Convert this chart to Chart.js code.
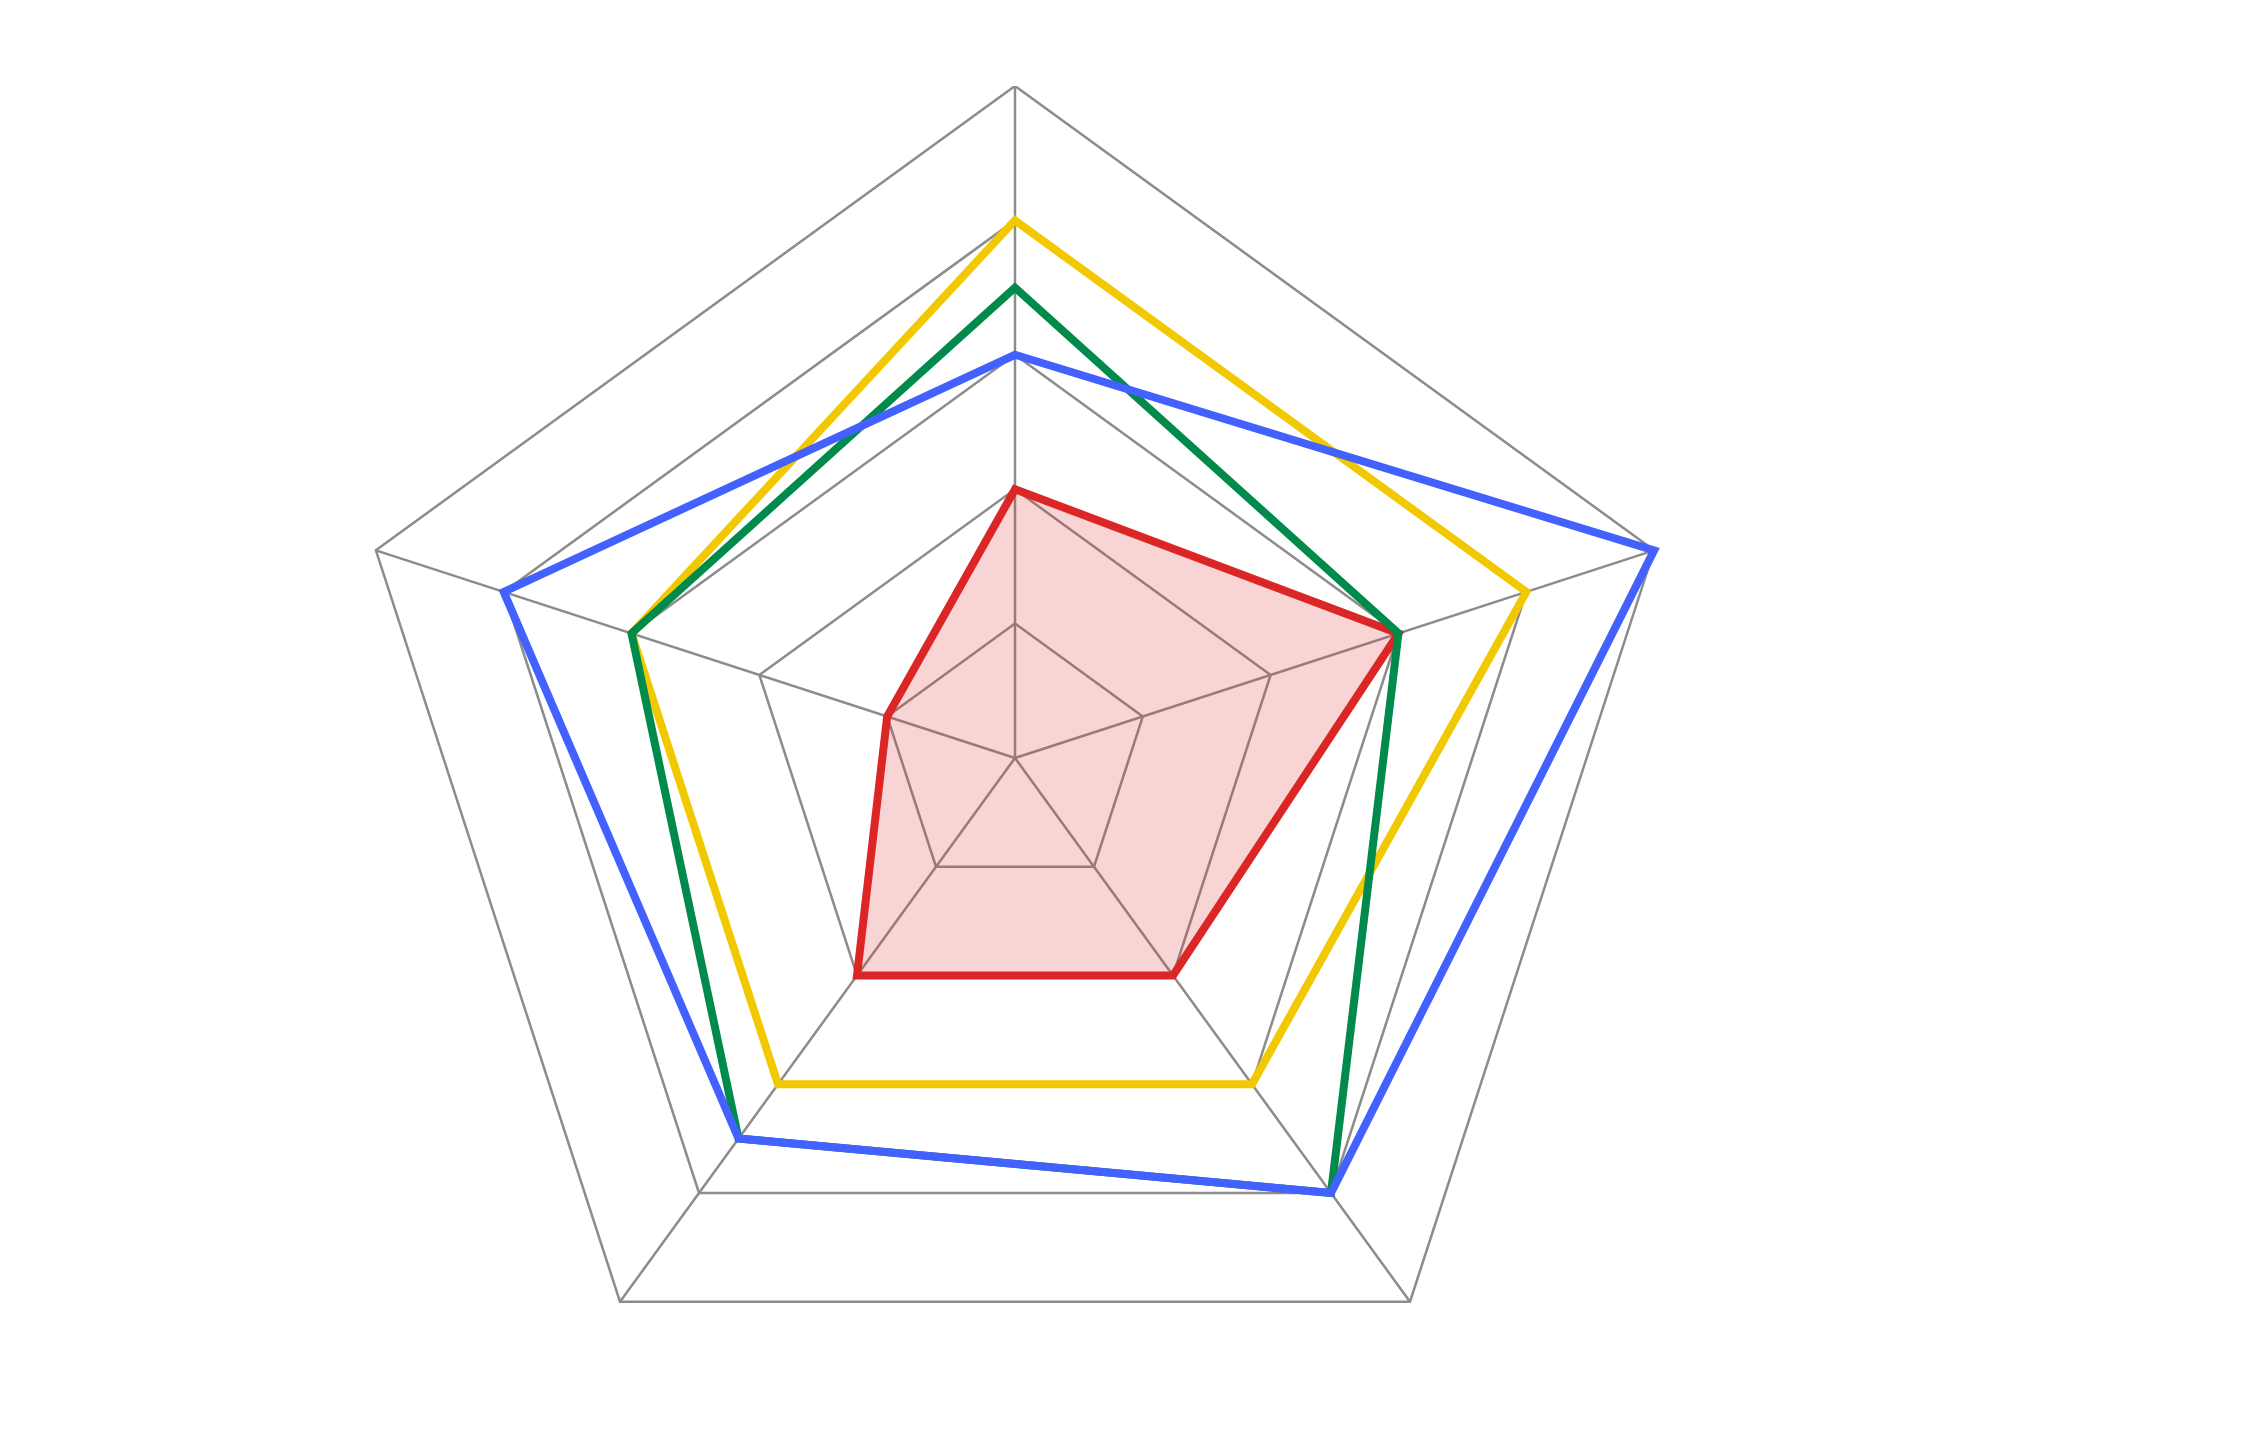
<!DOCTYPE html>
<html>
<head>
<meta charset="utf-8">
<style>
  html, body { margin: 0; padding: 0; background: #ffffff; width: 2247px; height: 1437px; overflow: hidden; }
  #wrap { position: absolute; left: 343px; top: 86px; width: 1344px; height: 1344px; }
</style>
<script src="https://cdn.jsdelivr.net/npm/chart.js@4/dist/chart.umd.min.js"></script>
</head>
<body>
<div id="wrap"><canvas id="c"></canvas></div>
<script>
// Axis categories (labels are not shown in the picture)
const categories = ['A', 'B', 'C', 'D', 'E'];
// Series values, clockwise from the top axis
const seriesBlue   = [3, 5, 4, 3.5, 4];
const seriesGreen  = [3.5, 3, 4, 3.5, 3];
const seriesYellow = [4, 4, 3, 3, 3];
const seriesRed    = [2, 3, 2, 2, 1];
// Radial scale ticks
const scaleMin = 0;
const scaleMax = 5;
const scaleStep = 1;

const gridColor = '#8c8c8c';

new Chart(document.getElementById('c'), {
  type: 'radar',
  data: {
    labels: categories,
    datasets: [
      { label: 'Blue', data: seriesBlue, borderColor: '#4361ff', backgroundColor: 'rgba(0,0,0,0)', fill: false, borderWidth: 8 },
      { label: 'Green', data: seriesGreen, borderColor: '#008a4b', backgroundColor: 'rgba(0,0,0,0)', fill: false, borderWidth: 8 },
      { label: 'Yellow', data: seriesYellow, borderColor: '#f2c900', backgroundColor: 'rgba(0,0,0,0)', fill: false, borderWidth: 8 },
      { label: 'Red', data: seriesRed, borderColor: '#dc2626', backgroundColor: 'rgba(220,38,38,0.2)', fill: true, borderWidth: 8 }
    ]
  },
  options: {
    responsive: true,
    maintainAspectRatio: false,
    animation: false,
    layout: { padding: 0 },
    elements: {
      point: { radius: 0, hoverRadius: 0 },
      line: { tension: 0, borderJoinStyle: 'miter' }
    },
    plugins: {
      legend: { display: false },
      tooltip: { enabled: false },
      title: { display: false }
    },
    scales: {
      r: {
        min: scaleMin,
        max: scaleMax,
        beginAtZero: true,
        ticks: { display: false, stepSize: scaleStep },
        pointLabels: { display: false },
        grid: { color: gridColor, lineWidth: 2.5 },
        angleLines: { color: gridColor, lineWidth: 2.5 }
      }
    }
  }
});
</script>
</body>
</html>
